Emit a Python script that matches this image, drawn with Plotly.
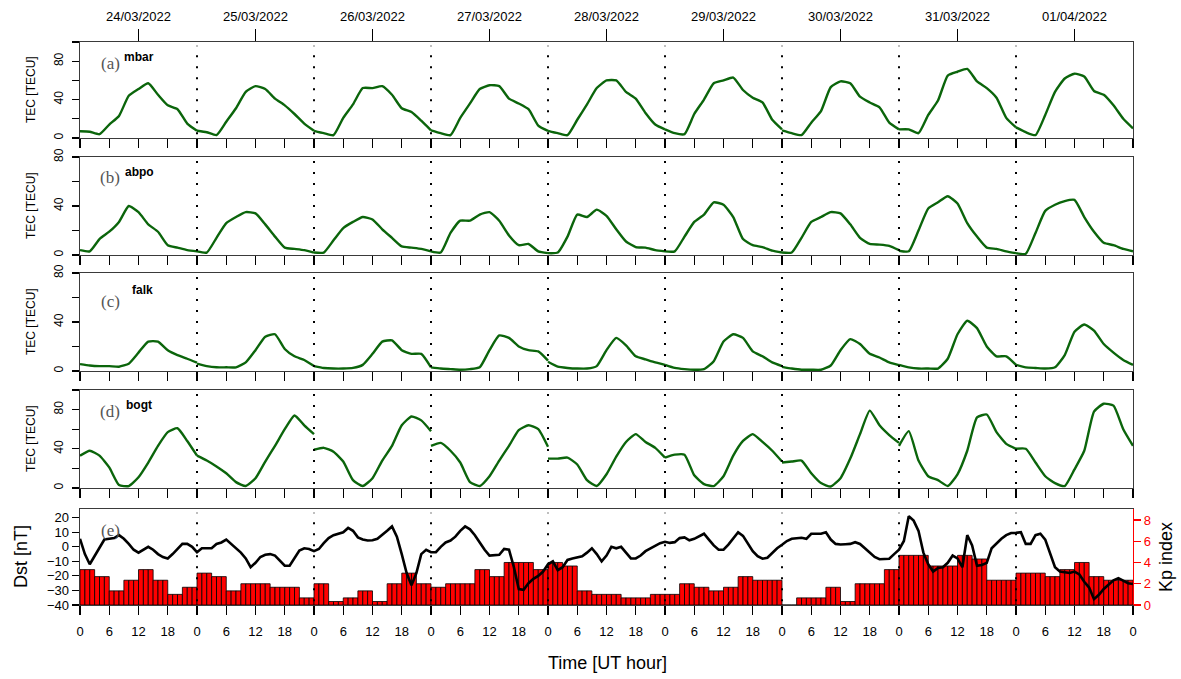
import plotly.graph_objects as go

W, H = 1181, 679

# ---------------- data ----------------
dates = ["24/03/2022", "25/03/2022", "26/03/2022", "27/03/2022", "28/03/2022",
         "29/03/2022", "30/03/2022", "31/03/2022", "01/04/2022"]
hours2 = [0, 2, 4, 6, 8, 10, 12, 14, 16, 18, 20, 22, 24]
hour_labels = ["0", "6", "12", "18"]

# TEC per day, sampled every 2 h (0..24 UT)
mbar = [
    [7, 6.5, 4, 14, 23, 44, 51, 57, 45, 34, 30, 15, 7.5],
    [7.5, 6, 3, 17, 31, 48, 54, 51, 41, 34, 25, 15, 7.5],
    [7.5, 5, 3, 21, 35, 52, 52, 54, 45, 31, 27, 18, 8],
    [8, 5, 3, 21, 36, 51, 55, 54, 41, 36, 30, 13, 7.5],
    [7.5, 5, 3, 19, 35, 52, 60, 60, 48, 41, 26, 14, 9],
    [9, 5, 4, 25, 40, 57, 60, 63, 50, 42, 37, 19, 9],
    [8, 5, 3, 16, 28, 53, 59, 57, 43, 37, 32, 16, 9],
    [9, 9, 5, 24, 39, 65, 69, 72, 59, 52, 42, 21, 11],
    [11, 6, 3, 24, 48, 62, 67, 64, 49, 45, 34, 20, 10],
]
abpo = [
    [4, 3, 13, 19, 27, 40, 35, 25, 19, 8, 6, 4, 3],
    [3, 2, 14, 26, 31, 35, 34, 25, 15, 6, 5, 4, 2],
    [2, 2, 12, 22, 27, 31, 29, 21, 14, 7, 6, 5, 3],
    [3, 2, 18, 28, 28, 33, 35, 28, 16, 8, 9, 3, 1.5],
    [1.5, 2, 15, 33, 31, 37, 32, 21, 11, 6.5, 6, 4, 3],
    [3, 3, 15, 27, 33, 43, 41, 31, 13, 8, 6.5, 3.5, 2],
    [2, 2, 14, 27, 31, 35, 34, 25, 14, 9, 8.5, 7.5, 4],
    [3.5, 3, 20, 38, 43, 48, 42, 26, 15, 6, 5, 3, 1.5],
    [1.5, 1, 18, 36, 41, 44, 45, 31, 19, 10, 8, 5, 3],
]
falk = [
    [5.6, 4.5, 4, 4, 3.5, 6, 15, 24, 24, 17, 13, 10, 6.8],
    [6, 4, 3, 3, 3, 7, 17, 28, 30, 18, 12, 9, 4],
    [4, 2.5, 2, 2, 2.5, 5, 14, 24, 25, 17, 14, 14, 3],
    [3, 2, 1.5, 1, 1.5, 3, 17, 29, 27, 20, 17, 16, 8.5],
    [7.5, 3.5, 2.5, 2, 2, 4, 17, 27, 21, 12, 9.5, 7, 5],
    [5, 2.5, 1.5, 1, 1.5, 8, 24, 30, 27, 16, 12, 7, 4],
    [3.4, 2, 1, 1, 1, 4.5, 17, 26, 22, 14, 11, 7, 4.8],
    [5, 3, 2, 2, 2, 10, 30, 41, 35, 20, 12, 12, 5],
    [5, 3, 2.5, 2, 3, 13, 32, 38, 33, 22, 15, 9, 5],
]
bogt = [
    [33, 38, 33, 21, 3, 2, 11, 26, 43, 57, 61, 48, 33],
    [33, 28, 22, 15, 6, 2, 10, 27, 43, 60, 74, 64, 55],
    [39, 41, 37, 27, 8, 2, 10, 28, 43, 64, 73, 69, 58],
    [43, 46, 38, 26, 6, 2, 12, 28, 43, 59, 64, 60, 42],
    [30, 30, 31, 24, 8, 2, 14, 32, 47, 55, 47, 41, 31],
    [31, 34, 34, 13, 4, 2, 12, 33, 48, 55, 47, 38, 27],
    [26, 27, 28, 15, 5, 1.5, 10, 30, 55, 79, 64, 54, 46],
    [43, 58, 28, 12, 8, 2, 14, 38, 72, 75, 57, 45, 40],
    [40, 40, 26, 12, 5, 2, 19, 38, 78, 86, 84, 60, 43],
]

# Hourly Dst (nT), one list per day (00..23 UT), plus the final value at 00 UT of 02/04
dst = [
    [5.5, -5, -12, -6, 0, 5, 5.5, 6, 8, 5.5, 2, -2, -4, -2, 0, -2, -5, -7, -8, -5, -1.5, 2, 2, 0],
    [-3.7, -1, -1, -1, 2, 3, 5, 2, -1.5, -4, -8, -14, -11, -7, -5.5, -5, -6, -9.5, -13, -13, -8, -2.5, -1, -1.5],
    [-3, -1.5, 2.5, 6, 8, 9, 10, 13, 11, 6.5, 5, 4.3, 4.5, 5.5, 8, 11, 14, 7, -5, -18, -26.5, -18, -5, -2],
    [-3.7, -3.7, 0, 3, 4.3, 7, 11, 14, 12, 8, 3, -2, -6, -5.5, -5.5, -1.5, -2, -14, -29, -29.5, -25, -22, -20, -17],
    [-12, -10, -16, -14, -9, -8, -7.5, -6.5, -4, -1, -5, -10, -6, 0, -1, 0, -4, -8, -8, -6, -3, -1, 0.5, 2.5],
    [3.5, 2.7, 3.2, 6, 6.5, 4.5, 5.5, 7.5, 9, 5, 1, -2, -2, 1.5, 6, 10, 7.5, 2, -3, -6.5, -8.2, -7.5, -4, -1],
    [1.4, 4, 5.5, 6, 6.2, 5.5, 9, 9, 9, 10, 5, 2, 1.6, 1.8, 2, 3.2, 2, -1, -4, -7, -8.5, -8.5, -8.2, -5],
    [-2, 4, 21, 18, 11, -4, -12, -17, -14.5, -14, -11, -6, -8, -14, 8, 1, -13, -12.5, -11, -1, 2.5, 5.5, 8, 9.5],
    [9.6, 10, 2, 2, 8, 9, 5, -4, -14, -17, -17.4, -18, -17, -19, -24, -28, -36, -33, -29, -26, -23, -21.5, -23, -25],
]
dst_end = -25.6

# 3-hourly Kp index
kp = [
    3.33, 2.67, 1.33, 2.33, 3.33, 2.33, 1.0, 1.67,
    3.0, 2.67, 1.33, 2.0, 2.0, 1.67, 1.67, 0.67,
    2.0, 0.33, 0.67, 1.33, 0.33, 2.0, 3.0, 2.0,
    1.67, 2.0, 2.0, 3.33, 2.67, 4.0, 4.0, 3.33,
    4.0, 3.67, 1.33, 1.0, 1.0, 0.67, 0.67, 1.0,
    1.0, 2.0, 1.67, 1.33, 1.67, 2.67, 2.33, 2.33,
    0.0, 0.67, 0.67, 1.67, 0.33, 2.0, 2.0, 3.33,
    4.67, 4.67, 3.67, 3.67, 4.67, 4.33, 2.33, 2.33,
    3.0, 3.0, 2.67, 3.33, 4.0, 2.67, 2.33, 2.33,
]

stations = ["mbar", "abpo", "falk", "bogt"]
letters = ["(a)", "(b)", "(c)", "(d)", "(e)"]
tec_data = [mbar, abpo, falk, bogt]
tec_max = [100, 80, 80, 100]

# ---------------- geometry helpers ----------------
PX_L, PX_R = 80, 1133
PANELS = [(42, 138), (157, 255), (273, 371), (390, 488), (509, 605)]
NDAYS = len(dates)
XMAX = 24 * NDAYS


def px(x):
    return x / W


def py(y):
    return 1 - y / H


FONT = "Liberation Sans Narrow, Arial Narrow, Liberation Sans, Arial, sans-serif"
AX = "#3a3a3a"

fig = go.Figure()

# one trace per station and day so each day's curve is its own smooth segment
for i, data in enumerate(tec_data):
    for d, vals in enumerate(data):
        fig.add_trace(go.Scatter(
            x=[24 * d + h for h in hours2], y=vals, mode="lines",
            line=dict(color="#0b650b", width=2.4, shape="spline", smoothing=0.5),
            xaxis="x" if i == 0 else f"x{i+1}",
            yaxis="y" if i == 0 else f"y{i+1}",
            hoverinfo="skip"))

# Kp bars (hourly bars, 3-hourly values)
kp_x = [h + 0.5 for h in range(XMAX)]
kp_y = [kp[h // 3] for h in range(XMAX)]
fig.add_trace(go.Bar(
    x=kp_x, y=kp_y, width=1.0,
    marker=dict(color="#ff0000", line=dict(color="black", width=0.8)),
    xaxis="x5", yaxis="y5", hoverinfo="skip"))

# Dst line
dst_y = [v for day in dst for v in day] + [dst_end]
dst_x = list(range(len(dst_y)))
fig.add_trace(go.Scatter(
    x=dst_x, y=dst_y, mode="lines",
    line=dict(color="black", width=2.6),
    xaxis="x5", yaxis="y6", hoverinfo="skip"))

# carrier for the top date axis (no visible marks)
fig.add_trace(go.Scatter(
    x=[12 + 24 * d for d in range(NDAYS)], y=[None] * NDAYS,
    mode="lines", xaxis="x6", yaxis="y", hoverinfo="skip"))

layout = dict(
    width=W, height=H,
    margin=dict(l=0, r=0, t=0, b=0),
    paper_bgcolor="white", plot_bgcolor="white",
    showlegend=False, bargap=0, hovermode=False,
    font=dict(family=FONT, color="black"),
)

six_ticks = list(range(0, XMAX + 1, 6))
six_text = [hour_labels[(t // 6) % 4] for t in six_ticks]

for i, (top, bot) in enumerate(PANELS):
    key = "" if i == 0 else str(i + 1)
    xa = dict(
        domain=[px(PX_L), px(PX_R)], range=[0, XMAX],
        anchor="y" + key,
        tickvals=six_ticks, ticktext=six_text,
        showticklabels=(i == 4),
        ticks="outside", ticklen=9, tickwidth=1.1, tickcolor="black",
        showline=True, mirror=True, linecolor=AX, linewidth=1.4,
        showgrid=False, zeroline=False,
        tickfont=dict(size=13, family=FONT),
        ticklabelstandoff=5,
        automargin=False,
    )
    layout["xaxis" + key] = xa
    if i < 4:
        ymax = tec_max[i]
        tv = list(range(0, ymax + 1, 20))
        tt = [str(v) if v in (0, 40, 80) else "" for v in tv]
        layout["yaxis" + key] = dict(
            domain=[py(bot), py(top)], range=[0, ymax],
            anchor="x" + key,
            tickvals=tv, ticktext=tt, tickangle=-90,
            ticks="outside", ticklen=7, tickwidth=1.1, tickcolor="black",
            showline=True, mirror=True, linecolor=AX, linewidth=1.4,
            showgrid=False, zeroline=False,
            tickfont=dict(size=12, family=FONT),
            ticklabelstandoff=4,
            automargin=False,
        )

# panel (e): Kp (base, right) and Dst (overlay, left)
layout["yaxis5"] = dict(
    domain=[py(PANELS[4][1]), py(PANELS[4][0])], range=[0, 9.03],
    anchor="x5", side="right",
    tickvals=[0, 2, 4, 6, 8],
    ticks="outside", ticklen=7, tickwidth=1.1, tickcolor="red",
    showline=True, linecolor="red", linewidth=1.2,
    tickfont=dict(size=13, color="red", family=FONT),
    showgrid=False, zeroline=False, automargin=False,
)
layout["yaxis6"] = dict(
    overlaying="y5", anchor="x5", side="left", range=[-40, 26],
    tickvals=[-40, -30, -20, -10, 0, 10, 20],
    ticks="outside", ticklen=7, tickwidth=1.1, tickcolor="black",
    showline=True, linecolor=AX, linewidth=1.4,
    tickfont=dict(size=13, family=FONT),
    showgrid=False, zeroline=False, automargin=False,
)
# date axis on top of panel (a)
layout["xaxis6"] = dict(
    overlaying="x", anchor="y", side="top", range=[0, XMAX],
    tickvals=[12 + 24 * d for d in range(NDAYS)], ticktext=dates,
    ticks="outside", ticklen=12, tickwidth=1.1, tickcolor="black",
    showline=False, showgrid=False, zeroline=False,
    tickfont=dict(size=13, family=FONT),
    ticklabelstandoff=3, automargin=False,
)

# day-boundary dotted lines
shapes = []
for i in range(5):
    key = "" if i == 0 else str(i + 1)
    for d in range(1, NDAYS):
        shapes.append(dict(
            type="line", xref="x" + key, yref=("y" + key + " domain"),
            x0=24 * d, x1=24 * d, y0=0.04, y1=0.96,
            line=dict(color="black", width=2, dash="2px,9px"),
            layer="above"))
layout["shapes"] = shapes

ann = []
# panel letters and station names
for i, (top, bot) in enumerate(PANELS):
    ly = top + 21 if i != 2 else top + 28
    ann.append(dict(text=letters[i], x=px(110), y=py(ly), xref="paper", yref="paper",
                    showarrow=False, xanchor="center", yanchor="middle",
                    font=dict(family="Liberation Serif, Times New Roman, serif", size=17, color="#555555")))
    if i < 4:
        sx = 139 if i != 2 else 142
        sy = top + 15 if i != 2 else top + 17
        ann.append(dict(text="<b>" + stations[i] + "</b>", x=px(sx), y=py(sy),
                        xref="paper", yref="paper", showarrow=False,
                        xanchor="center", yanchor="middle",
                        font=dict(family="Liberation Sans, Arial, sans-serif", size=12, color="black")))
        ann.append(dict(text="TEC [TECU]", x=px(31), y=py((top + bot) / 2), xref="paper", yref="paper",
                        showarrow=False, textangle=-90, xanchor="center", yanchor="middle",
                        font=dict(family="Liberation Sans, Arial, sans-serif", size=12, color="black")))

ann.append(dict(text="Dst [nT]", x=px(21), y=py(557), xref="paper", yref="paper",
                showarrow=False, textangle=-90, xanchor="center", yanchor="middle",
                font=dict(family="Liberation Sans, Arial, sans-serif", size=18, color="black")))
ann.append(dict(text="Kp index", x=px(1166), y=py(557), xref="paper", yref="paper",
                showarrow=False, textangle=-90, xanchor="center", yanchor="middle",
                font=dict(family="Liberation Sans, Arial, sans-serif", size=18, color="black")))
ann.append(dict(text="Time [UT hour]", x=px(607), y=py(663), xref="paper", yref="paper",
                showarrow=False, xanchor="center", yanchor="middle",
                font=dict(family="Liberation Sans, Arial, sans-serif", size=18, color="black")))
layout["annotations"] = ann

fig.update_layout(**layout)
fig.write_html("out.html",
               config={"displayModeBar": False, "staticPlot": True},
               post_script="document.body.style.margin='0px';document.body.style.overflow='hidden';")
